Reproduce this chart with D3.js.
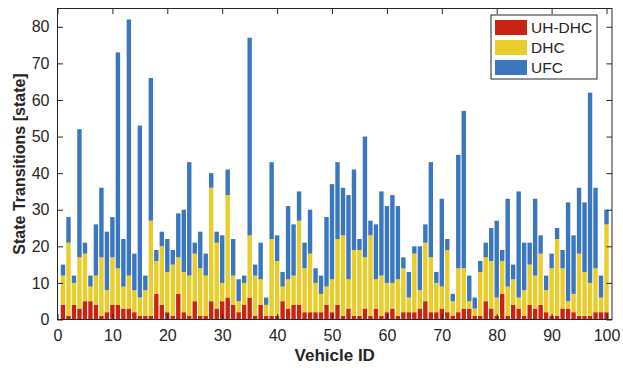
<!DOCTYPE html>
<html>
<head>
<meta charset="utf-8">
<script src="https://cdn.jsdelivr.net/npm/d3@7"></script>
<style>
  body { margin: 0; background: #fff; }
  svg text { font-family: "Liberation Sans", Arial, sans-serif; fill: #262626; }
</style>
</head>
<body>
<div id="chart"></div>
<script>
// vehicle ids 1..100
const vehicleIds = d3.range(1, 101);

// per-vehicle counts for each state type (stack order: bottom to top)
const uhDhc = [4,1,4,3,5,5,4,1,2,4, 4,3,3,2,1,1,1,7,4,2,
               1,7,2,1,5,1,1,5,3,5, 6,4,2,4,6,1,4,1,1,1,
               5,3,4,4,2,2,2,2,4,2, 4,1,3,1,1,3,1,3,1,2,
               3,1,2,2,2,3,5,2,2,3, 2,1,2,3,3,1,1,5,3,1,
               7,1,4,3,1,4,3,4,2,1, 1,3,3,2,1,1,1,2,2,2];
const dhc = [8,20,6,14,13,4,8,16,6,13, 10,6,9,6,5,7,26,9,16,11,
             14,10,11,11,13,13,11,31,18,5, 28,8,3,6,17,11,7,3,21,15,
             4,8,8,23,12,16,8,5,5,9, 18,22,8,18,18,14,22,8,11,8,
             7,10,12,4,16,5,16,15,8,6, 17,4,12,11,2,2,12,12,13,5,
             9,8,7,3,7,11,9,14,6,13, 21,11,2,5,17,12,9,12,4,24];
const ufc = [3,7,2,35,3,3,14,19,16,11, 59,13,70,10,47,4,39,3,4,9,
             4,12,17,31,3,10,6,4,3,13, 7,10,6,2,54,3,10,2,21,7,
             4,20,14,8,7,12,4,5,19,26, 21,13,23,22,3,33,4,15,23,21,
             24,20,3,7,2,12,5,26,3,24, 3,2,31,43,7,3,3,4,9,21,
             3,24,4,29,13,6,21,5,4,4, 3,5,27,16,18,19,52,22,6,4];

const seriesNames = ["UH-DHC", "DHC", "UFC"];
const seriesColors = ["#c9240f", "#e8cd2c", "#3a77bf"];

const xTicks = d3.range(0, 101, 10);
const yTicks = d3.range(0, 81, 10);

const width = 623, height = 368;
const margin = { top: 8.5, right: 11, bottom: 48.5, left: 57.5 };
const innerW = width - margin.left - margin.right;
const innerH = height - margin.top - margin.bottom;

const table = vehicleIds.map((id, i) => ({ id: id, "UH-DHC": uhDhc[i], "DHC": dhc[i], "UFC": ufc[i] }));
const stacked = d3.stack().keys(seriesNames)(table);

const svg = d3.select("#chart").append("svg")
  .attr("width", width)
  .attr("height", height);

const g = svg.append("g")
  .attr("transform", `translate(${margin.left},${margin.top})`);

const x = d3.scaleLinear().domain([0, 101]).range([0, innerW]);
const y = d3.scaleLinear().domain([0, 85]).range([innerH, 0]);
const barW = x(0.8) - x(0);

// bars
g.append("g").selectAll("g")
  .data(stacked)
  .enter()
  .append("g")
  .attr("fill", (d, i) => seriesColors[i])
  .selectAll("rect")
  .data(d => d)
  .enter()
  .append("rect")
  .attr("x", d => x(d.data.id) - barW / 2)
  .attr("width", barW)
  .attr("y", d => y(d[1]))
  .attr("height", d => y(d[0]) - y(d[1]));

// axes, ticks pointing inward like the original
const tickLen = 5.5;
const axisColor = "#262626";

const xAxis = g.append("g")
  .attr("transform", `translate(0,${innerH})`)
  .call(d3.axisBottom(x).tickValues(xTicks).tickSizeInner(-tickLen).tickSizeOuter(0).tickPadding(10));
const xAxisTop = g.append("g")
  .call(d3.axisTop(x).tickValues(xTicks).tickSizeInner(-tickLen).tickSizeOuter(0).tickFormat(""));
const yAxis = g.append("g")
  .call(d3.axisLeft(y).tickValues(yTicks).tickSizeInner(-tickLen).tickSizeOuter(0).tickPadding(8));
const yAxisRight = g.append("g")
  .attr("transform", `translate(${innerW},0)`)
  .call(d3.axisRight(y).tickValues(yTicks).tickSizeInner(-tickLen).tickSizeOuter(0).tickFormat(""));

[xAxis, xAxisTop, yAxis, yAxisRight].forEach(a => {
  a.select(".domain").remove();
  a.selectAll(".tick line").attr("stroke", axisColor);
  a.selectAll("text").style("font-size", "16px").attr("fill", axisColor);
});

// frame
g.append("rect")
  .attr("width", innerW)
  .attr("height", innerH)
  .attr("fill", "none")
  .attr("stroke", axisColor)
  .attr("stroke-width", 1);

// axis titles
svg.append("text")
  .attr("x", margin.left + innerW / 2)
  .attr("y", 361)
  .attr("text-anchor", "middle")
  .style("font-size", "17px")
  .style("font-weight", "bold")
  .text("Vehicle ID");

svg.append("text")
  .attr("transform", `translate(25,${margin.top + innerH / 2}) rotate(-90)`)
  .attr("text-anchor", "middle")
  .style("font-size", "16px")
  .style("font-weight", "bold")
  .text("State Transitions [state]");

// legend
const legend = svg.append("g").attr("transform", "translate(491,15)");
legend.append("rect")
  .attr("width", 106)
  .attr("height", 64)
  .attr("fill", "#fff")
  .attr("stroke", axisColor)
  .attr("stroke-width", 1);

const items = legend.selectAll(".item")
  .data(seriesNames)
  .enter()
  .append("g")
  .attr("transform", (d, i) => `translate(4,${5 + i * 20})`);
items.append("rect")
  .attr("width", 32)
  .attr("height", 15)
  .attr("fill", (d, i) => seriesColors[i]);
items.append("text")
  .attr("x", 36)
  .attr("y", 13)
  .style("font-size", "15.5px")
  .text(d => d);
</script>
</body>
</html>
